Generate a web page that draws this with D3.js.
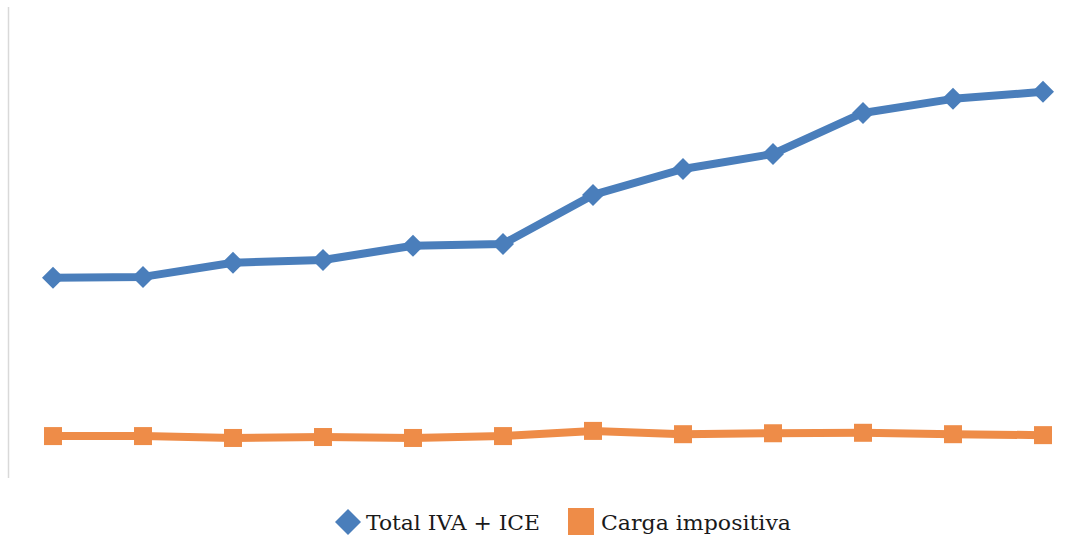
<!DOCTYPE html>
<html><head><meta charset="utf-8">
<script src="https://cdn.jsdelivr.net/npm/d3@7"></script>
<style>html,body{margin:0;padding:0;background:#fff;}svg{display:block;}</style>
</head><body>
<svg id="c" width="1077" height="537"></svg>
<script>
const categories = ["1","2","3","4","5","6","7","8","9","10","11","12"];
const totalIvaIce = [42.5, 42.7, 45.7, 46.3, 49.3, 49.7, 60.1, 65.6, 68.8, 77.5, 80.5, 82.0];
const cargaImpositiva = [8.9, 8.9, 8.5, 8.7, 8.5, 8.9, 10.0, 9.3, 9.5, 9.6, 9.3, 9.1];
const seriesNames = ["Total IVA + ICE", "Carga impositiva"];

const svg = d3.select("#c");
const blue = "#4a7ebb", orange = "#ee8c48";
const x = d3.scaleBand().domain(categories).range([8, 1088]);
const y = d3.scaleLinear().domain([0, 100]).range([478, 7]);

svg.append("line").attr("x1", 8.5).attr("x2", 8.5).attr("y1", 7).attr("y2", 478)
  .attr("stroke", "#d9d9d9").attr("stroke-width", 1.5);

const cx = d => x(d) + x.bandwidth() / 2;
const line = d3.line().x((d, i) => cx(categories[i])).y(d => y(d));

svg.append("path").datum(cargaImpositiva).attr("d", line).attr("fill", "none")
  .attr("stroke", orange).attr("stroke-width", 8).attr("stroke-linejoin", "round");
svg.selectAll("rect.m").data(cargaImpositiva).join("rect").attr("class", "m")
  .attr("x", (d, i) => cx(categories[i]) - 9).attr("y", d => y(d) - 9)
  .attr("width", 18).attr("height", 18).attr("fill", orange);

svg.append("path").datum(totalIvaIce).attr("d", line).attr("fill", "none")
  .attr("stroke", blue).attr("stroke-width", 8).attr("stroke-linejoin", "round");
const diamond = "M0,-11L11,0L0,11L-11,0Z";
svg.selectAll("path.d").data(totalIvaIce).join("path").attr("class", "d")
  .attr("d", diamond).attr("fill", blue)
  .attr("transform", (d, i) => `translate(${cx(categories[i])},${y(d)})`);

// legend
const lg = svg.append("g").attr("font-family", "'DejaVu Serif', serif").attr("font-size", 21).attr("fill", "#1a1a1a");
lg.append("path").attr("d", "M0,-13L13,0L0,13L-13,0Z").attr("fill", blue).attr("transform", "translate(348,522)");
lg.append("text").attr("x", 366).attr("y", 530).attr("textLength", 174).attr("lengthAdjust", "spacingAndGlyphs").text(seriesNames[0]);
lg.append("rect").attr("x", 568).attr("y", 508).attr("width", 26).attr("height", 27).attr("fill", orange);
lg.append("text").attr("x", 601).attr("y", 530).attr("textLength", 190).attr("lengthAdjust", "spacingAndGlyphs").text(seriesNames[1]);
</script>
</body></html>
